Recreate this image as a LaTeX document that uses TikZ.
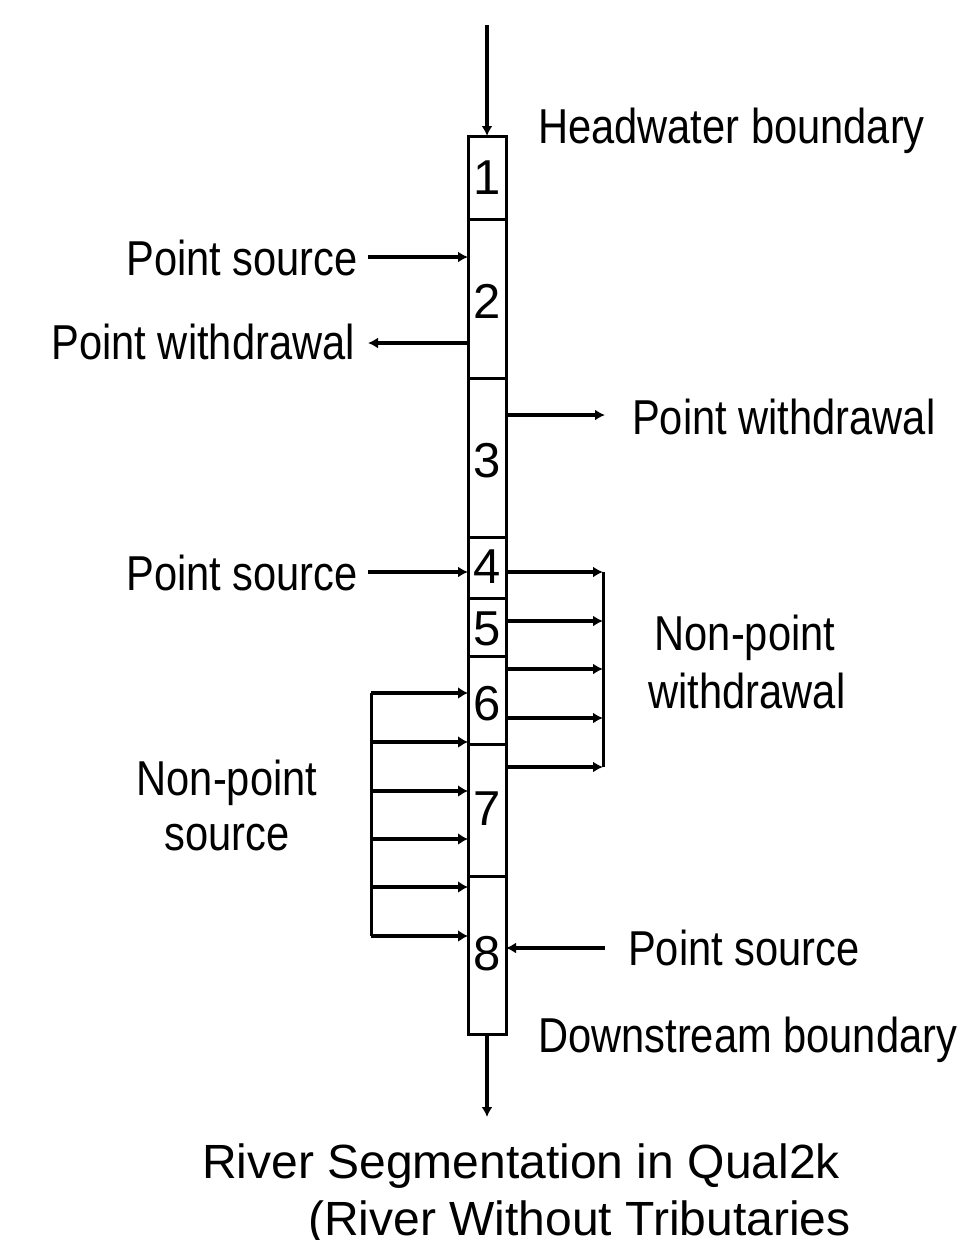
\documentclass[tikz,border=0pt]{standalone}
\usepackage{fontspec}
\setmainfont{Liberation Sans}
\newfontfamily\condfont[FakeStretch=0.85]{Liberation Sans}
\usetikzlibrary{arrows.meta}
\begin{document}
\begin{tikzpicture}[x=1pt,y=-1pt,
  seg/.style={draw, line width=3pt, minimum width=38pt, inner sep=0pt, outer sep=0pt},
  digit/.style={inner sep=0pt, anchor=base, font=\fontsize{49}{58}\selectfont},
  lab/.style={inner sep=0pt, font=\condfont\fontsize{49}{58}\selectfont},
  captext/.style={inner sep=0pt, anchor=base west, font=\fontsize{48}{58}\selectfont},
  arr/.style={line width=3.5pt, -{Latex[length=10pt,width=11pt]}},
  arrthick/.style={line width=4.5pt, -{Latex[length=10pt,width=12pt]}},
  bar/.style={line width=3pt},
]
\useasboundingbox (0,0) rectangle (967,1240);

% segments
\node[seg, minimum height=83pt]  (s1) at (487,177.5) {};
\node[seg, minimum height=159pt] (s2) at (487,298.5) {};
\node[seg, minimum height=159pt] (s3) at (487,457.5) {};
\node[seg, minimum height=61pt]  (s4) at (487,567.5) {};
\node[seg, minimum height=58pt]  (s5) at (487,627) {};
\node[seg, minimum height=88pt]  (s6) at (487,700) {};
\node[seg, minimum height=132pt] (s7) at (487,810) {};
\node[seg, minimum height=158pt] (s8) at (487,955) {};

% digits
\node[digit] (d1) at (487,194) {1};
\node[digit] (d2) at (487,318) {2};
\node[digit] (d3) at (487,477) {3};
\node[digit] (d4) at (487,583) {4};
\node[digit] (d5) at (487,645) {5};
\node[digit] (d6) at (487,720) {6};
\node[digit] (d7) at (487,825) {7};
\node[digit] (d8) at (487,970) {8};

% main flow
\coordinate (top) at (487,25);
\coordinate (bot) at (487,1117);
\draw[arr] (top) -- (s1.north);
\draw[arr] (s8.south) -- (bot);

% point sources / withdrawals
\coordinate (ps1) at (368,257);
\draw[arr] (ps1) -- (ps1 -| s2.west);
\coordinate (pw1) at (368,343);
\draw[arr] (pw1 -| s2.west) -- (pw1);
\coordinate (pw2) at (605,415);
\draw[arr] (pw2 -| s3.east) -- (pw2);
\coordinate (ps2) at (368,572);
\draw[arr] (ps2) -- (ps2 -| s4.west);
\coordinate (ps3) at (605,948);
\draw[arr] (ps3) -- (ps3 -| s8.east);

% non-point withdrawal
\coordinate (wb1) at (603,572);
\coordinate (wb2) at (603,621);
\coordinate (wb3) at (603,669);
\coordinate (wb4) at (603,718);
\coordinate (wb5) at (603,767);
\draw[bar] (wb1) -- (wb5);
\draw[arr] (wb1 -| s4.east) -- (wb1);
\draw[arr] (wb2 -| s5.east) -- (wb2);
\draw[arr] (wb3 -| s6.east) -- (wb3);
\draw[arr] (wb4 -| s6.east) -- (wb4);
\draw[arr] (wb5 -| s7.east) -- (wb5);

% non-point source
\coordinate (sb1) at (371,693);
\coordinate (sb2) at (371,742);
\coordinate (sb3) at (371,791);
\coordinate (sb4) at (371,839);
\coordinate (sb5) at (371,887);
\coordinate (sb6) at (371,936);
\draw[bar] (sb1) -- (sb6);
\draw[arrthick] (sb1) -- (sb1 -| s6.west);
\draw[arrthick] (sb2) -- (sb2 -| s7.west);
\draw[arrthick] (sb3) -- (sb3 -| s7.west);
\draw[arrthick] (sb4) -- (sb4 -| s7.west);
\draw[arrthick] (sb5) -- (sb5 -| s8.west);
\draw[arrthick] (sb6) -- (sb6 -| s8.west);

% labels
\node[lab, anchor=base west] (hw)  at (538,143) {Headwater boundary};
\node[lab, anchor=base east] (lps1) at (358,275) {Point source};
\node[lab, anchor=base east] (lpw1) at (355,359) {Point withdrawal};
\node[lab, anchor=base west] (lpw2) at (632,434) {Point withdrawal};
\node[lab, anchor=base east] (lps2) at (358,590) {Point source};
\node[lab, anchor=base] (npw1) at (745,650) {Non-point};
\node[lab, anchor=base] (npw2) at (747,708) {withdrawal};
\node[lab, anchor=base] (nps1) at (227,795) {Non-point};
\node[lab, anchor=base] (nps2) at (227,850) {source};
\node[lab, anchor=base west] (lps3) at (628,965) {Point source};
\node[lab, anchor=base west] (ds)  at (538,1052) {Downstream boundary};

% caption
\node[captext] (c1) at (202,1178) {River Segmentation in Qual2k};
\node[captext] (c2) at (308,1235) {(River Without Tributaries};
\end{tikzpicture}
\end{document}
